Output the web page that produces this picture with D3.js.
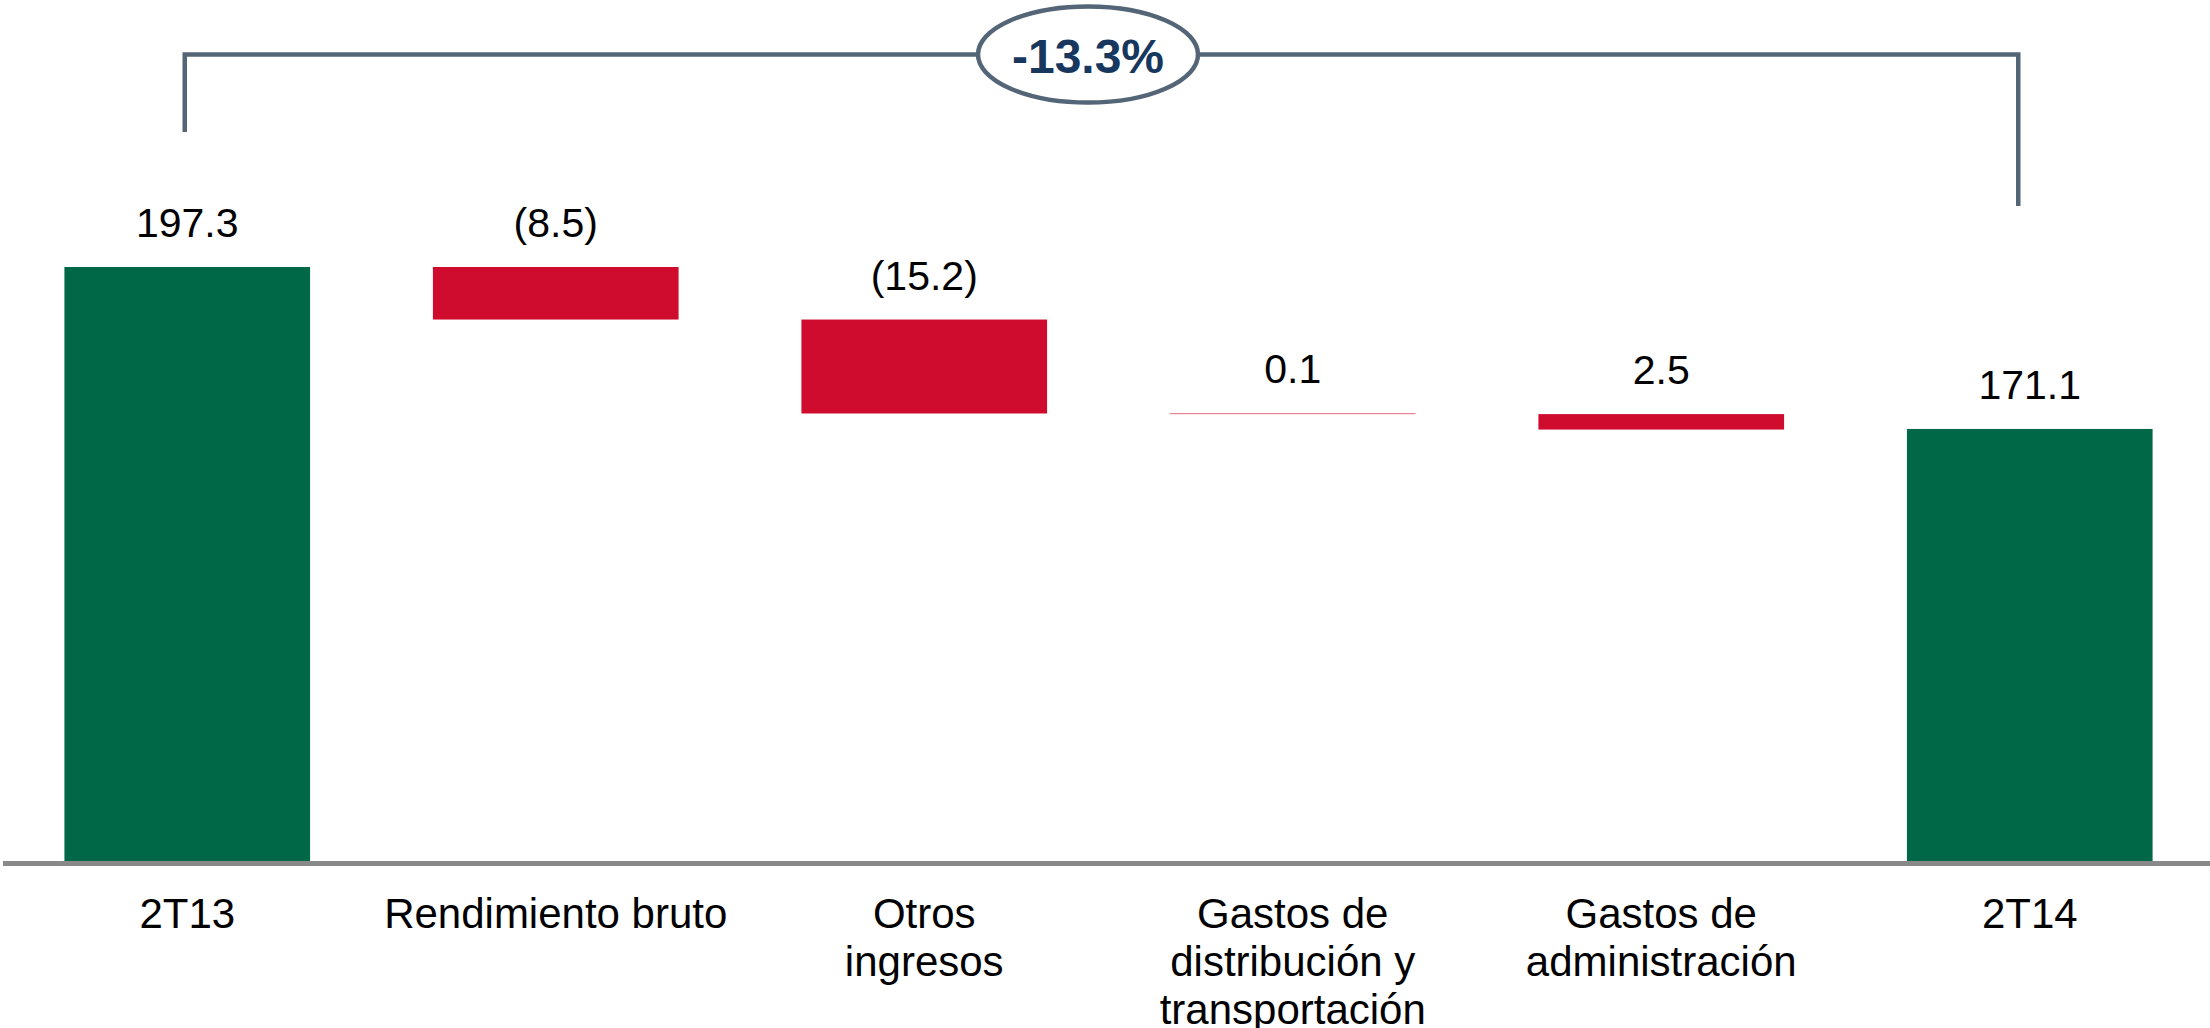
<!DOCTYPE html>
<html>
<head>
<meta charset="utf-8">
<script src="https://cdn.jsdelivr.net/npm/d3@7"></script>
<style>
  html, body { margin: 0; padding: 0; background: #ffffff; }
  svg { display: block; }
</style>
</head>
<body>
<svg id="chart" width="2210" height="1028"></svg>
<script>
// ---- data ----
const categories = ["2T13", "Rendimiento bruto", "Otros\ningresos", "Gastos de\ndistribución y\ntransportación", "Gastos de\nadministración", "2T14"];
const kinds      = ["total", "change", "change", "change", "change", "total"];
const values     = [197.3, -8.5, -15.2, -0.1, -2.5, 171.1];
const valueLabels = ["197.3", "(8.5)", "(15.2)", "0.1", "2.5", "171.1"];

// ---- layout ----
const W = 2210, H = 1028;
const svg = d3.select("#chart");
const baseY = 861, topY = 267;
const axisMin = 101.2;

const x = d3.scaleBand().domain(d3.range(categories.length))
  .range([3, 2214]).paddingInner(1/3).paddingOuter(1/6);
const y = d3.scaleLinear().domain([axisMin, values[0]]).range([baseY, topY]);

// waterfall running totals
let running = 0;
const bars = values.map((v, i) => {
  let lo, hi;
  if (kinds[i] === "total") { lo = axisMin; hi = v; running = v; }
  else { const prev = running; running = prev + v; lo = Math.min(prev, running); hi = Math.max(prev, running); }
  return { i, lo, hi, kind: kinds[i], label: valueLabels[i] };
});

const green = "#006847", red = "#D00C2E";

svg.append("g").selectAll("rect").data(bars).join("rect")
  .attr("x", d => x(d.i))
  .attr("width", x.bandwidth())
  .attr("y", d => y(d.hi))
  .attr("height", d => Math.max(0.6, y(d.lo) - y(d.hi)))
  .attr("fill", d => d.kind === "total" ? green : red);

// axis line
svg.append("line").attr("x1", 3).attr("x2", W).attr("y1", 863.5).attr("y2", 863.5)
  .attr("stroke", "#898989").attr("stroke-width", 5);

// value labels
svg.append("g").selectAll("text").data(bars).join("text")
  .attr("x", d => x(d.i) + x.bandwidth() / 2)
  .attr("y", d => y(d.hi) - 30)
  .attr("text-anchor", "middle")
  .attr("font-family", "Liberation Sans, Arial, sans-serif")
  .attr("font-size", 41)
  .attr("fill", "#000")
  .text(d => d.label);

// category labels
const catG = svg.append("g");
categories.forEach((c, i) => {
  const t = catG.append("text")
    .attr("x", x(i) + x.bandwidth() / 2)
    .attr("y", 928)
    .attr("text-anchor", "middle")
    .attr("font-family", "Liberation Sans, Arial, sans-serif")
    .attr("font-size", 42)
    .attr("fill", "#000");
  c.split("\n").forEach((line, k) => {
    t.append("tspan").attr("x", x(i) + x.bandwidth() / 2).attr("dy", k === 0 ? 0 : 48).text(line);
  });
});

// bracket annotation with percentage change
const pct = (values[values.length - 1] - values[0]) / values[0] * 100;
const bx1 = x(0) + x.bandwidth() / 2 - 2.5;
const bx2 = x(categories.length - 1) + x.bandwidth() / 2 - 11.5;
const by = 54.5;
const slate = "#536576";
svg.append("path")
  .attr("d", `M${bx1},132 L${bx1},${by} L${bx2},${by} L${bx2},206`)
  .attr("fill", "none").attr("stroke", slate).attr("stroke-width", 4.5);
const ex = 1088;
svg.append("ellipse").attr("cx", ex).attr("cy", by).attr("rx", 110).attr("ry", 48)
  .attr("fill", "#fff").attr("stroke", slate).attr("stroke-width", 4.5);
svg.append("text").attr("x", ex).attr("y", 73)
  .attr("text-anchor", "middle")
  .attr("font-family", "Liberation Sans, Arial, sans-serif")
  .attr("font-weight", "bold").attr("font-size", 48)
  .attr("fill", "#17375E")
  .text(pct.toFixed(1) + "%");
</script>
</body>
</html>
